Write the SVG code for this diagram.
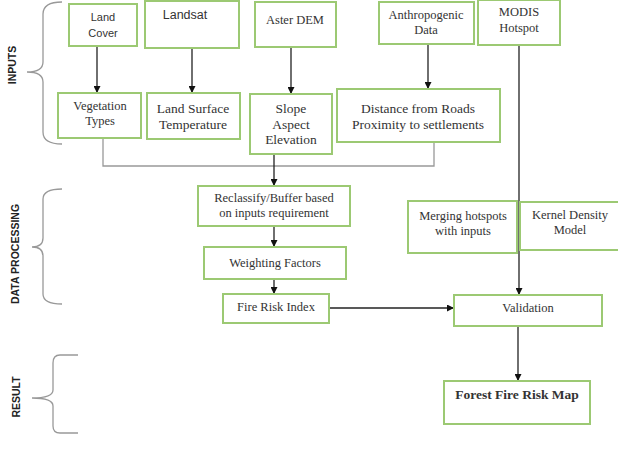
<svg xmlns="http://www.w3.org/2000/svg" width="618" height="459" viewBox="0 0 618 459">
<defs>
<marker id="ah" viewBox="0 0 10 10" refX="10" refY="5" markerWidth="7" markerHeight="7" markerUnits="userSpaceOnUse" orient="auto">
<path d="M0,0 L10,5 L0,10 z" fill="#111"/>
</marker>
<style>
.box{fill:#fff;stroke:#9cc973;stroke-width:2}
.t{font-family:"Liberation Serif","Times New Roman",serif;font-size:12.5px;fill:#333;text-anchor:middle}
.tl{font-size:13.5px}
.s{font-family:"Liberation Sans",Arial,sans-serif;fill:#333;text-anchor:middle}
.lab{font-family:"Liberation Sans",Arial,sans-serif;font-weight:bold;font-size:10.5px;fill:#222;text-anchor:middle}
.arr{stroke:#222;stroke-width:1.3;fill:none;marker-end:url(#ah)}
.gl{stroke:#999;stroke-width:1.3;fill:none}
.br{stroke:#999;stroke-width:1.3;fill:none}
</style>
</defs>
<rect width="618" height="459" fill="#fff"/>

<g id="braces">
<path class="br" d="M62,2 Q43,2 43,14 L43,62 Q43,72 27,72 Q43,72 43,82 L43,132 Q43,144 62,144"/>
<path class="br" d="M62,189 Q43,189 43,199 L43,238 Q43,247 32,247 Q43,247 43,256 L43,294 Q43,304 62,304"/>
<path class="br" d="M78,355 L60,355 Q53,355 53,363 L53,390 Q53,398 32,398 Q53,398 53,406 L53,426 Q53,433 60,433 L78,433"/>
<text class="lab" transform="translate(16,65) rotate(-90)">INPUTS</text>
<text class="lab" transform="translate(19,254) rotate(-90)">DATA PROCESSING</text>
<text class="lab" transform="translate(20,397) rotate(-90)">RESULT</text>
</g>

<g id="connectors">
<line class="arr" x1="97" y1="46" x2="97" y2="93"/>
<line class="arr" x1="192" y1="48" x2="192" y2="93"/>
<line class="arr" x1="291" y1="47" x2="291" y2="94"/>
<line class="arr" x1="428" y1="44" x2="428" y2="89"/>
<polyline class="gl" points="103,138 103,166 434,166 434,142"/>
<line class="arr" x1="274" y1="154" x2="274" y2="186"/>
<line class="arr" x1="274" y1="226" x2="274" y2="247"/>
<line class="arr" x1="274" y1="279" x2="274" y2="294"/>
<line class="arr" x1="329" y1="308" x2="454" y2="308"/>
<line class="arr" x1="519" y1="45" x2="519" y2="295"/>
<line class="arr" x1="518" y1="326" x2="518" y2="381"/>
</g>

<g id="land-cover">
<rect class="box" x="69" y="4" width="68" height="42"/>
<text class="s" font-size="11" x="103" y="21">Land</text>
<text class="s" font-size="11" x="103" y="37">Cover</text>
</g>
<g id="landsat">
<rect class="box" x="145" y="1" width="94" height="47"/>
<text class="s" font-size="12.5" x="185" y="19">Landsat</text>
</g>
<g id="aster-dem">
<rect class="box" x="255" y="2" width="81" height="45"/>
<text class="t" x="295" y="24">Aster DEM</text>
</g>
<g id="anthropogenic">
<rect class="box" x="379" y="2" width="95" height="42"/>
<text class="t" font-size="11.5" x="426" y="19">Anthropogenic</text>
<text class="t" font-size="11.5" x="426" y="34">Data</text>
</g>
<g id="modis">
<rect class="box" x="478" y="0" width="82" height="45"/>
<text class="t" x="519" y="16">MODIS</text>
<text class="t" x="519" y="32">Hotspot</text>
</g>
<g id="vegetation">
<rect class="box" x="58" y="93" width="83" height="45"/>
<text class="t" x="100" y="110">Vegetation</text>
<text class="t" x="100" y="125">Types</text>
</g>
<g id="lst">
<rect class="box" x="147" y="93" width="93" height="46"/>
<text class="t tl" x="193" y="113">Land Surface</text>
<text class="t tl" x="193" y="129">Temperature</text>
</g>
<g id="slope">
<rect class="box" x="250" y="94" width="82" height="60"/>
<text class="t tl" x="291" y="113">Slope</text>
<text class="t tl" x="291" y="129">Aspect</text>
<text class="t tl" x="291" y="144">Elevation</text>
</g>
<g id="distance">
<rect class="box" x="337" y="89" width="163" height="53"/>
<text class="t tl" x="418" y="113">Distance from Roads</text>
<text class="t tl" x="418" y="129">Proximity to settlements</text>
</g>
<g id="reclassify">
<rect class="box" x="198" y="186" width="152" height="40"/>
<text class="t" font-size="12" x="274" y="202">Reclassify/Buffer based</text>
<text class="t" font-size="12" x="274" y="217">on inputs requirement</text>
</g>
<g id="weighting">
<rect class="box" x="204" y="247" width="142" height="32"/>
<text class="t" x="275" y="267">Weighting Factors</text>
</g>
<g id="fire-risk-index">
<rect class="box" x="223" y="294" width="106" height="29"/>
<text class="t" x="276" y="311">Fire Risk Index</text>
</g>
<g id="merging">
<rect class="box" x="408" y="201" width="109" height="52"/>
<text class="t" x="463" y="220">Merging hotspots</text>
<text class="t" x="463" y="235">with inputs</text>
</g>
<g id="kernel">
<rect class="box" x="520" y="202" width="100" height="48"/>
<text class="t" x="570" y="219">Kernel Density</text>
<text class="t" x="570" y="234">Model</text>
</g>
<g id="validation">
<rect class="box" x="454" y="295" width="148" height="31"/>
<text class="t" x="528" y="312">Validation</text>
</g>
<g id="forest-fire-risk-map">
<rect class="box" x="444" y="381" width="146" height="43"/>
<text class="t tl" font-weight="bold" fill="#222" x="517" y="399">Forest Fire Risk Map</text>
</g>
</svg>
